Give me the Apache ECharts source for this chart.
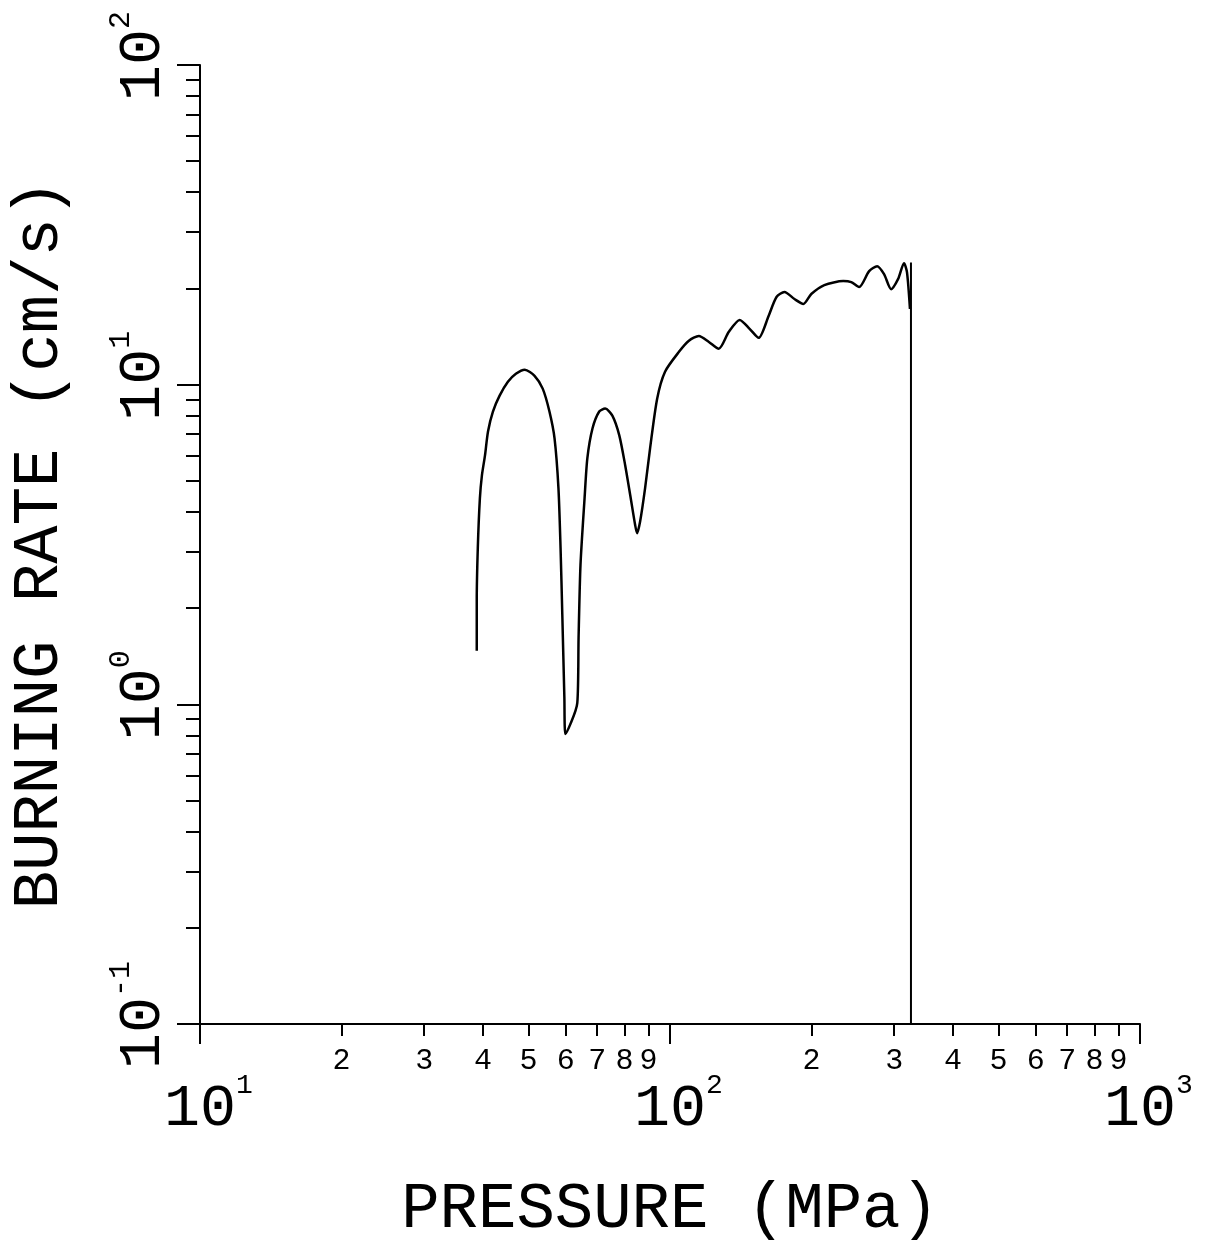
<!DOCTYPE html>
<html>
<head>
<meta charset="utf-8">
<script src="https://cdn.jsdelivr.net/npm/echarts@6/dist/echarts.min.js"></script>
<style>
  html, body { margin: 0; padding: 0; background: #fff; overflow: hidden; }
  #chart { width: 1219px; height: 1247px; }
</style>
</head>
<body>
<div id="chart"></div>
<script>
// Pressure (MPa) and burning rate (cm/s)
const pressure = [38.8, 38.8, 39.0, 39.4, 39.8, 40.4, 41.0, 42.0, 43.4, 45.2, 47.0, 49.1, 51.5, 53.6, 55.4, 56.8, 57.9, 58.5, 59.0, 59.6, 59.9,
  63.5, 63.9, 64.5, 65.8, 66.7, 68.4, 70.7, 72.8, 75.4, 78.0, 80.3, 82.3, 84.3, 85.1, 86.4, 88.5, 90.7, 93.9, 97.6,
  104.5, 109.7, 115.2, 121, 127, 133.4, 140.7, 147.7, 154.4, 162.1, 168.5, 175.2, 184, 192.2, 199.8, 213, 233.7, 243,
  252.6, 265.3, 275.9, 285.4, 295.4, 305.6, 314.7, 319.3, 324];
const burningRate = [1.47, 2.11, 3.08, 4.41, 5.21, 6.01, 7.14, 8.24, 9.24, 10.21, 10.82, 11.14, 10.66, 9.72, 8.24, 6.79, 4.74, 3.08, 1.91, 1.05, 0.807,
  1.01, 1.62, 2.73, 4.41, 5.88, 7.29, 8.24, 8.42, 8.0, 6.94, 5.59, 4.51, 3.64, 3.43, 3.74, 4.74, 6.32, 9.04, 10.98,
  12.67, 13.72, 14.2, 13.6, 12.95, 14.63, 15.94, 14.95, 14.01, 16.4, 18.8, 19.49, 18.53, 17.88, 19.21, 20.49, 21.09, 20.93,
  20.2, 22.65, 23.48, 22.17, 19.9, 21.39, 23.99, 22.49, 17.25];
// vertical cut-off line
const cutoffPressure = [325.6, 325.6];
const cutoffRate = [24.1, 0.1];

// tick positions
const xMajorTicks = [10, 100, 1000];
const xMinorTicks = [20, 30, 40, 50, 60, 70, 80, 90, 200, 300, 400, 500, 600, 700, 800, 900];
const yMajorTicks = [0.1, 1, 10, 100];
const yMinorTicks = [0.2, 0.3, 0.4, 0.5, 0.6, 0.7, 0.8, 0.9, 2, 3, 4, 5, 6, 7, 8, 9, 20, 30, 40, 50, 60, 70, 80, 90];

const xTitle = 'PRESSURE (MPa)';
const yTitle = 'BURNING RATE (cm/s)';

const FONT = 'Liberation Mono';
const BLACK = '#000';

function expOf(v) { return Math.round(Math.log10(v)); }
function mantissa(v) { return String(Math.round(v / Math.pow(10, Math.floor(Math.log10(v) + 1e-9)))); }

const chart = echarts.init(document.getElementById('chart'));

const curve = pressure.map((p, i) => [p, burningRate[i]]);
const cutoff = cutoffPressure.map((p, i) => [p, cutoffRate[i]]);

const majorRichX = {
  b: { fontFamily: FONT, fontSize: 60, color: BLACK, lineHeight: 74 },
  s: { fontFamily: FONT, fontSize: 28, color: BLACK, verticalAlign: 'top', lineHeight: 28 },
  sp: { width: 17 }
};
const majorRichY = {
  b: { fontFamily: FONT, fontSize: 60, color: BLACK, lineHeight: 74 },
  s: { fontFamily: FONT, fontSize: 30, color: BLACK, verticalAlign: 'top', lineHeight: 30 },
  sp: { width: 18 }
};

const option = {
  animation: false,
  backgroundColor: '#fff',
  grid: { left: 196, right: 79, top: 65, bottom: 219, containLabel: false },
  xAxis: [
    {
      type: 'log', logBase: 10, min: 10, max: 1000, position: 'bottom',
      name: xTitle, nameLocation: 'middle', nameGap: 154,
      nameTextStyle: { fontFamily: FONT, fontSize: 64, color: BLACK },
      axisLine: { show: true, lineStyle: { color: BLACK, width: 2 } },
      axisTick: { show: true, inside: false, length: 20, lineStyle: { color: BLACK, width: 2 }, customValues: xMajorTicks },
      axisLabel: {
        show: true, margin: 48, customValues: xMajorTicks,
        formatter: v => '{sp|}{b|10}{s|' + expOf(v) + '}',
        rich: majorRichX
      },
      splitLine: { show: false }, minorTick: { show: false }
    },
    {
      type: 'log', logBase: 10, min: 10, max: 1000, position: 'bottom',
      axisLine: { show: false },
      axisTick: { show: true, inside: false, length: 12, lineStyle: { color: BLACK, width: 2 }, customValues: xMinorTicks },
      axisLabel: {
        show: true, margin: 22, customValues: xMinorTicks,
        fontFamily: FONT, fontSize: 30, color: BLACK,
        formatter: v => mantissa(v)
      },
      splitLine: { show: false }
    }
  ],
  yAxis: [
    {
      type: 'log', logBase: 10, min: 0.1, max: 100, position: 'left',
      name: yTitle, nameLocation: 'middle', nameGap: 128,
      nameTextStyle: { fontFamily: FONT, fontSize: 64, color: BLACK },
      axisLine: { show: true, lineStyle: { color: BLACK, width: 2 } },
      axisTick: { show: true, inside: false, length: 23, lineStyle: { color: BLACK, width: 2 }, customValues: yMajorTicks },
      axisLabel: {
        show: true, margin: 20, rotate: 90, customValues: yMajorTicks,
        formatter: v => '{sp|}{b|10}{s|' + expOf(v) + '}',
        rich: majorRichY
      },
      splitLine: { show: false }
    },
    {
      type: 'log', logBase: 10, min: 0.1, max: 100, position: 'left',
      axisLine: { show: false },
      axisTick: { show: true, inside: false, length: 14, lineStyle: { color: BLACK, width: 2 }, customValues: yMinorTicks },
      axisLabel: { show: false },
      splitLine: { show: false }
    }
  ],
  series: [
    {
      type: 'line', xAxisIndex: 0, yAxisIndex: 0, data: curve,
      showSymbol: false, smooth: 0.25,
      lineStyle: { color: BLACK, width: 2.5 }
    },
    {
      type: 'line', xAxisIndex: 0, yAxisIndex: 0, data: cutoff,
      showSymbol: false,
      lineStyle: { color: BLACK, width: 2 }
    }
  ]
};
chart.setOption(option);
</script>
</body>
</html>
